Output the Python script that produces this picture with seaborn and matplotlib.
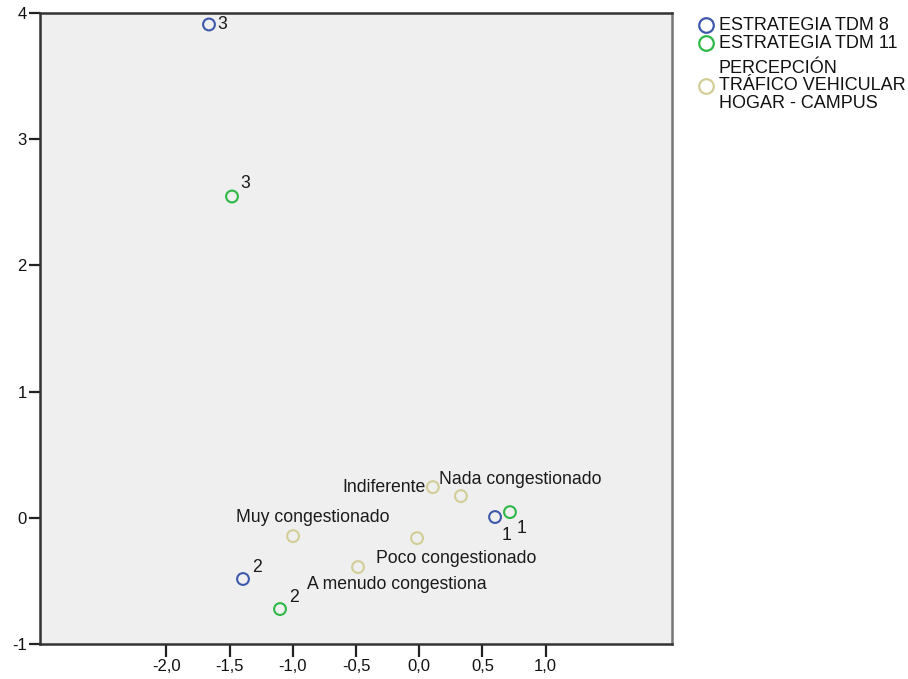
import matplotlib
matplotlib.use("Agg")
import matplotlib.pyplot as plt
from matplotlib.lines import Line2D
import pandas as pd
import seaborn as sns

# --- data -------------------------------------------------------------------
series_names = [
    "ESTRATEGIA TDM 8",
    "ESTRATEGIA TDM 11",
    "PERCEPCIÓN\nTRÁFICO VEHICULAR\nHOGAR - CAMPUS",
]
series_colors = ["#3E58AC", "#2EB848", "#D3CE97"]

tdm8_labels = ["1", "2", "3"]
tdm8_dim1 = [0.600, -1.394, -1.663]
tdm8_dim2 = [0.006, -0.485, 3.909]

tdm11_labels = ["1", "2", "3"]
tdm11_dim1 = [0.718, -1.101, -1.481]
tdm11_dim2 = [0.045, -0.723, 2.546]

percep_labels = ["Nada congestionado", "Poco congestionado", "Indiferente",
                 "A menudo congestiona", "Muy congestionado"]
percep_dim1 = [0.330, -0.017, 0.108, -0.484, -0.998]
percep_dim2 = [0.172, -0.161, 0.243, -0.390, -0.145]

x_ticks = [-2.0, -1.5, -1.0, -0.5, 0.0, 0.5, 1.0]
y_ticks = [-1, 0, 1, 2, 3, 4]

# --- table for seaborn ------------------------------------------------------
frames = []
for name, labs, d1, d2 in [
    (series_names[0], tdm8_labels, tdm8_dim1, tdm8_dim2),
    (series_names[1], tdm11_labels, tdm11_dim1, tdm11_dim2),
    (series_names[2], percep_labels, percep_dim1, percep_dim2),
]:
    frames.append(pd.DataFrame({"serie": name, "etiqueta": labs,
                                "dim1": d1, "dim2": d2}))
df = pd.concat(frames, ignore_index=True)

# label placement (pixel offsets from each point, alignment)
label_offsets = {
    (series_names[0], "1"): ((7, -18), "left"),
    (series_names[0], "2"): ((9, 12), "left"),
    (series_names[0], "3"): ((8, 0), "left"),
    (series_names[1], "1"): ((7, -16), "left"),
    (series_names[1], "2"): ((9, 12), "left"),
    (series_names[1], "3"): ((8, 13), "left"),
    (series_names[2], "Nada congestionado"): ((-22, 17), "left"),
    (series_names[2], "Poco congestionado"): ((-41, -20), "left"),
    (series_names[2], "Indiferente"): ((-7, 0), "right"),
    (series_names[2], "A menudo congestiona"): ((-51, -17), "left"),
    (series_names[2], "Muy congestionado"): ((-57, 19), "left"),
}

# --- style ------------------------------------------------------------------
sns.set_style("white")
plt.rcParams["font.family"] = ["Liberation Sans", "DejaVu Sans"]

W, H = 908, 679
fig = plt.figure(figsize=(W / 100, H / 100), dpi=100)
fig.patch.set_facecolor("white")
ax = fig.add_axes([40 / W, 1 - 644 / H, 632 / W, 631 / H])
ax.set_facecolor("#EFEFEF")

sns.scatterplot(data=df, x="dim1", y="dim2", hue="serie",
                hue_order=series_names, palette=series_colors,
                s=72, linewidth=1.5, legend=False, ax=ax, zorder=3)

# hollow circles: outline in the series colour
coll = ax.collections[0]
fc = coll.get_facecolors()
coll.set_edgecolors(fc)
coll.set_facecolors("none")

for _, row in df.iterrows():
    (dx, dy), ha = label_offsets[(row["serie"], row["etiqueta"])]
    ax.annotate(row["etiqueta"], (row["dim1"], row["dim2"]),
                xytext=(dx, dy), textcoords="offset pixels",
                ha=ha, va="center", fontsize=12.7, color="#1a1a1a",
                zorder=4)

ax.set_xlim(-3.0, 2.0)
ax.set_ylim(-1.0, 4.0)
ax.set_xticks(x_ticks)
ax.set_xticklabels([f"{v:.1f}".replace(".", ",") for v in x_ticks])
ax.set_yticks(y_ticks)
ax.set_yticklabels([str(v) for v in y_ticks])
ax.set_xlabel("")
ax.set_ylabel("")
ax.tick_params(axis="both", direction="out", length=8, width=1.6,
               color="#222222", labelsize=12, labelcolor="#111111", pad=1.5,
               bottom=True, left=True, top=False, right=False)
ax.tick_params(axis="x", length=9)

for side in ["left", "bottom", "top"]:
    ax.spines[side].set_color("#333333")
    ax.spines[side].set_linewidth(1.8)
ax.spines["right"].set_color("#777777")
ax.spines["right"].set_linewidth(1.8)

# --- legend (outside, top right) --------------------------------------------
legend_rows = [25, 43, 86]
for name, color, ypx in zip(series_names, series_colors, legend_rows):
    fig.add_artist(Line2D([706 / W], [1 - ypx / H], marker="o",
                          markersize=10.5, markerfacecolor="none",
                          markeredgecolor=color, markeredgewidth=1.6,
                          linestyle="none", transform=fig.transFigure))
    fig.text(719 / W, 1 - ypx / H, name, ha="left", va="center",
             fontsize=13, color="#111111", linespacing=1.03)

fig.savefig("out.png", dpi=100)
